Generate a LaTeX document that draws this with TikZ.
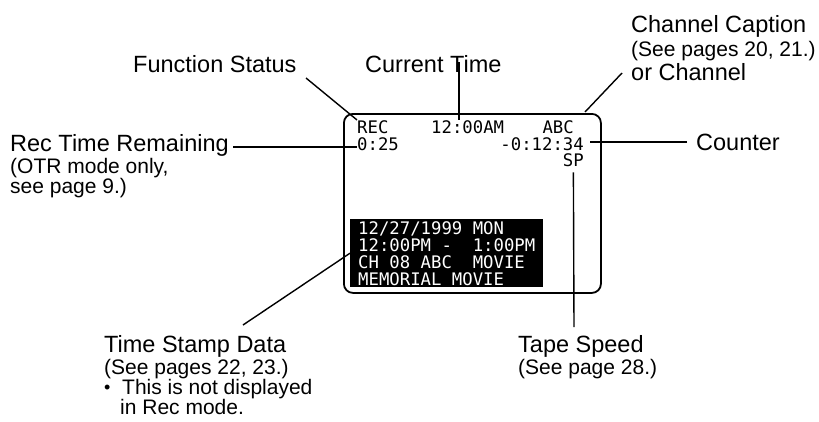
\documentclass[tikz,border=0pt]{standalone}
\usepackage{fontspec}
\setmainfont{Liberation Sans}
\newfontfamily\lcdfont{DejaVu Sans Mono}
\usetikzlibrary{positioning}

\begin{document}
\begin{tikzpicture}[
		x=1pt, y=-1pt,
		lbl/.style = {inner sep=0, anchor=base west, align=left, font=\fontsize{21}{20}\selectfont},
		hd/.style = {lbl, font=\fontsize{23.5}{20}\selectfont},
		osd/.style = {inner sep=0, font=\lcdfont\fontsize{17.3}{17}\selectfont},
		r/.style = {line width=1.4pt}
		]
		\useasboundingbox (0,0) rectangle (819,421);
		
		%Screen
		\node[draw, line width=1.8pt, rounded corners=9pt, anchor=north west, inner sep=0,
			minimum width=257pt, minimum height=179pt]	(screen)	at	(343,113)	{};
		\node[osd, anchor=base west]	(rec)	at	(357,133)	{REC};
		\node[osd, anchor=base west]	(clock)	at	(431,133)	{12:00AM};
		\node[osd, anchor=base east]	(chan)	at	(574,133)	{ABC};
		\node[osd, anchor=base west]	(remain)	at	(357,150)	{0:25};
		\node[osd, anchor=base east]	(count)	at	(584,150)	{-0:12:34};
		\node[osd, anchor=base east]	(speed)	at	(584,166)	{SP};
		\node[osd, fill=black, text=white, anchor=north west, align=left,
			inner xsep=8pt, inner ysep=0, minimum width=193pt, minimum height=68pt]	(stamp)	at	(350,219)
			{12/27/1999 MON\\12:00PM -~~1:00PM\\CH 08 ABC~~MOVIE\\MEMORIAL MOVIE};
		
		%Labels (base = last line)
		\node[hd]	(fstatus)	at	(133,72)	{Function Status};
		\node[hd]	(ctime)	at	(365,72)	{Current Time};
		\node[lbl, font=\fontsize{21}{24}\selectfont]	(ccap)	at	(631,80)
			{{\fontsize{23.5}{24}\selectfont Channel Caption}\\(See pages 20, 21.)\\{\fontsize{23.5}{24}\selectfont or Channel}};
		\node[lbl]	(rtr)	at	(10,193)	{{\fontsize{23.5}{20}\selectfont Rec Time Remaining}\\(OTR mode only,\\see page 9.)};
		\node[hd]	(counter)	at	(696,150)	{Counter};
		\node[lbl]	(tsd)	at	(104,414)
			{{\fontsize{23.5}{20}\selectfont Time Stamp Data}\\(See pages 22, 23.)\\\makebox[18pt][l]{\raisebox{1pt}{\fontsize{18}{18}\selectfont\textbullet}}This is not displayed\\\hspace*{16pt}in Rec mode.};
		\node[lbl]	(tspeed)	at	(518,374)	{{\fontsize{23.5}{20}\selectfont Tape Speed}\\(See page 28.)};
		
		%Lines
		\coordinate	(fs-a)	at	(306,78);
		\coordinate	(ct-a)	at	(459,62);
		\coordinate	(cc-a)	at	(622,73);
		\coordinate	(cc-b)	at	(585,112);
		\coordinate	(rt-a)	at	(233,147);
		\coordinate	(tp-a)	at	(574,327);
		\coordinate	(ts-a)	at	(243,325);
		\draw[r]	(fs-a)	--	(rec.north west);
		\draw[r]	(ct-a)	--	(ct-a |- clock.north);
		\draw[r]	(cc-a)	--	(cc-b);
		\draw[r]	(rt-a)	--	(rt-a -| remain.west);
		\draw[r]	([xshift=-9pt]counter.west)	--	([xshift=6pt]count.east |- counter.west);
		\draw[r]	(tp-a)	--	([yshift=-6pt]speed.south);
		\draw[r]	(ts-a)	--	(stamp.west);
	\end{tikzpicture}
\end{document}
